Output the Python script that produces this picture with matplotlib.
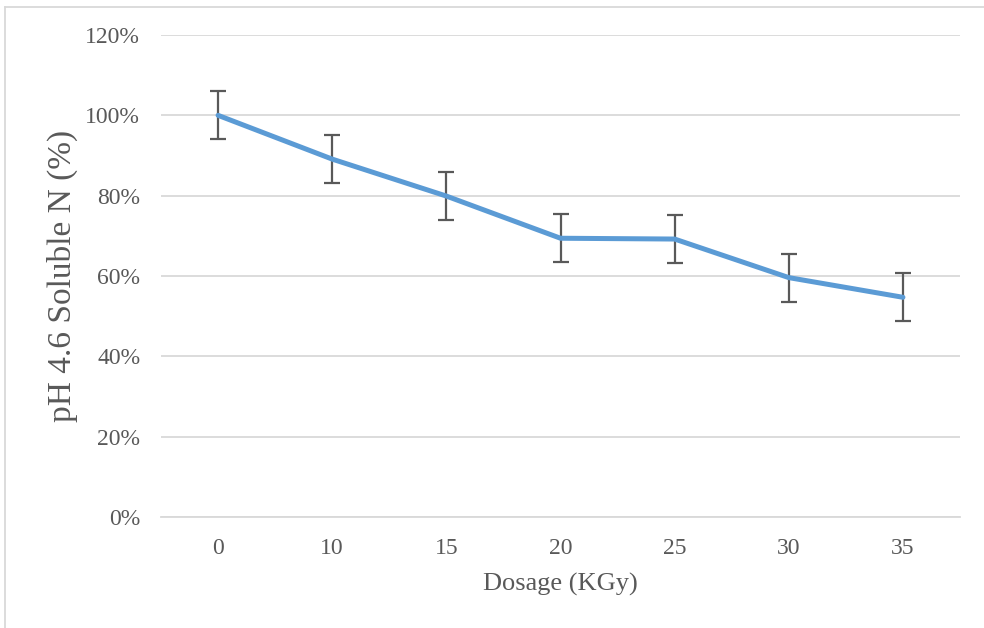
import matplotlib

matplotlib.use("Agg")
import matplotlib.pyplot as plt
from matplotlib.lines import Line2D
from matplotlib.ticker import FuncFormatter

dosage = ["0", "10", "15", "20", "25", "30", "35"]
soluble_n = [100.0, 89.1, 79.9, 69.4, 69.2, 59.6, 54.7]
error = [6.0, 6.0, 6.0, 6.0, 6.0, 6.0, 6.0]
y_ticks = [0, 20, 40, 60, 80, 100, 120]

W, H = 984, 628
text_color = "#595959"
grid_color = "#d9d9d9"
plt.rcParams["font.family"] = ["Liberation Serif", "DejaVu Serif"]

fig = plt.figure(figsize=(W / 100, H / 100), dpi=100)
ax = fig.add_axes([161 / W, 1 - 517 / H, (960 - 161) / W, (517 - 35) / H])

x = list(range(len(dosage)))
ax.errorbar(
    x, soluble_n, yerr=error,
    color="#5b9bd5", linewidth=3.6, solid_capstyle="round",
    ecolor=text_color, elinewidth=1.6, capsize=6, capthick=1.6, zorder=3,
)

ax.set_xlim(-0.5, len(dosage) - 0.5)
ax.set_ylim(0, 120)
ax.set_xticks(x)
ax.set_xticklabels(dosage)
ax.set_yticks(y_ticks)
ax.yaxis.set_major_formatter(FuncFormatter(lambda v, _: f"{v:.0f}%"))
ax.grid(axis="y", color=grid_color, linewidth=1.3)
ax.set_axisbelow(True)
for side in ["top", "right", "left"]:
    ax.spines[side].set_visible(False)
ax.spines["bottom"].set_color(grid_color)
ax.spines["bottom"].set_linewidth(1.3)
ax.tick_params(length=0, labelsize=17, labelcolor=text_color)
ax.tick_params(axis="y", pad=15)
ax.tick_params(axis="x", pad=15)

ax.set_xlabel("Dosage (KGy)", fontsize=19, color=text_color, labelpad=10)
ax.set_ylabel("pH 4.6 Soluble N (%)", fontsize=24, color=text_color, labelpad=5)

# light frame around the chart area (top and left edges visible)
fig.add_artist(Line2D([4.5 / W, 1], [1 - 6.5 / H, 1 - 6.5 / H], color=grid_color, linewidth=1.3))
fig.add_artist(Line2D([4.5 / W, 4.5 / W], [0, 1 - 6.5 / H], color=grid_color, linewidth=1.3))

fig.savefig("out.png", dpi=100)
plt.close(fig)
